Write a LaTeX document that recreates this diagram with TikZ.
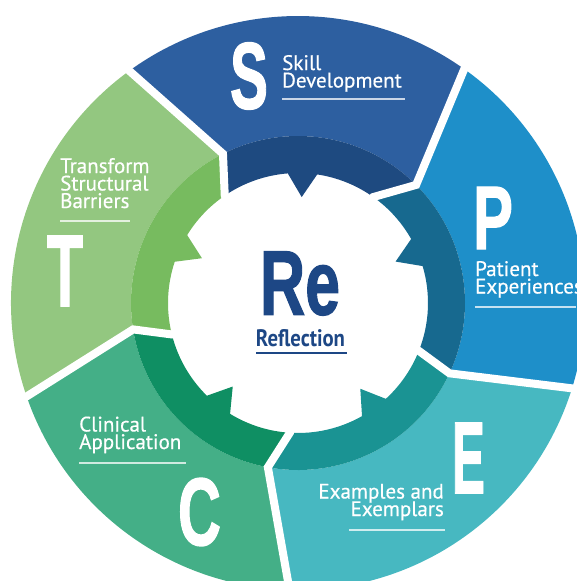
\documentclass[tikz,border=0pt]{standalone}
\usepackage{fontspec}
\setmainfont{PT Sans}
\newfontfamily\lblfont[FakeBold=0.5]{PT Sans}
\newfontfamily\bigfont[FakeBold=1.5]{Liberation Sans}
\setlength{\lineskiplimit}{-30pt}
\definecolor{sLight}{HTML}{2D5FA0}
\definecolor{sDark}{HTML}{1E4A80}
\definecolor{pLight}{HTML}{1E8FC9}
\definecolor{pDark}{HTML}{17698F}
\definecolor{eLight}{HTML}{47B8C1}
\definecolor{eDark}{HTML}{1A9393}
\definecolor{cLight}{HTML}{44AF87}
\definecolor{cDark}{HTML}{0F8F63}
\definecolor{tLight}{HTML}{93C780}
\definecolor{tDark}{HTML}{77BB5F}
\definecolor{navy}{HTML}{1D4785}
\begin{document}
\begin{tikzpicture}[x=1pt,y=1pt,
  lbl/.style={text=white, inner sep=0pt,
    font=\lblfont\fontsize{21}{17.5}\selectfont},
  bigletter/.style={text=white, inner sep=0pt},
  rule/.style={white, opacity=0.75, line width=1.3pt}]
\useasboundingbox (0,0) rectangle (576,-581);
\def\Ro{287}\def\Rm{167}\def\Ri{130}\def\Rt{106}
% one ring segment: light outer part and dark inner band with a tooth
% #1 light, #2 dark, #3-#5 trailing divider (outer, knee, inner),
% #6-#8 leading divider (outer, knee, inner), #9 tooth angle
\newcommand\ringseg[9]{%
  \fill[#1] (#3:\Ro) arc[start angle=#3, end angle=#6, radius=\Ro]
    -- (#7:\Rm) arc[start angle=#7, end angle=#4, radius=\Rm] -- cycle;
  \fill[#2] (#4:\Rm) arc[start angle=#4, end angle=#7, radius=\Rm]
    -- (#8:\Ri) arc[start angle=#8, end angle={#9-6.5}, radius=\Ri]
    -- (#9:\Rt) -- ({#9+6.5}:\Ri)
    arc[start angle={#9+6.5}, end angle=#5, radius=\Ri] -- cycle;
}
\begin{scope}[shift={(298,-303)}]
  \ringseg{sLight}{sDark}{126}{116.7}{124.3}{54.6}{45}{54.6}{88}
  \ringseg{pLight}{pDark}{54.6}{45}{54.6}{-17.3}{-24.9}{-21.6}{23}
  \ringseg{eLight}{eDark}{-17.3}{-24.9}{-21.6}{-91.7}{-100.4}{-93.6}{-54}
  \ringseg{cLight}{cDark}{-91.7}{-100.4}{-93.6}{-161}{-170.9}{-166}{-128}
  \ringseg{tLight}{tDark}{199}{189.1}{194}{126}{116.7}{124.3}{155}
  % white gaps between the segments
  \foreach \o/\m/\i in {126/116.7/124.3, 54.6/45/54.6, -17.3/-24.9/-21.6,
                        -91.7/-100.4/-93.6, -161/-170.9/-166}
    \draw[white, line width=8pt, line join=miter]
      (\o:305) -- (\o:\Ro) -- (\m:\Rm) -- (\i:\Ri) -- (\i:100);
\end{scope}

% centre
\node[inner sep=0pt, text=navy] (re) at (300,-283.5)
  {\resizebox{80pt}{63pt}{\bigfont\bfseries Re}};
\node[inner sep=0pt, text=navy] (refl) at (300.5,-338.5)
  {\resizebox{89pt}{17pt}{\bfseries Reflection}};
\coordinate (reflA) at (256,-353);
\coordinate (reflB) at (347,-353);
\draw[navy, line width=1.2pt] (reflA) -- (reflB);

% S  (multi-line labels are anchored at the baseline of their last line)
\node[bigletter] (bigS) at (249,-76) {\resizebox{38pt}{66pt}{\bigfont\bfseries S}};
\node[lbl, anchor=base west, align=left] (sTxt) at (282,-87.5) {Skill\\Development};
\coordinate (sA) at (282,-99); \coordinate (sB) at (405,-99);
\draw[rule] (sA) -- (sB);

% P
\node[bigletter] (bigP) at (493,-218) {\resizebox{40pt}{62pt}{\bigfont\bfseries P}};
\node[lbl, anchor=base west, align=left] (pTxt) at (475,-293.5) {Patient\\Experiences};
\coordinate (pA) at (475,-307); \coordinate (pB) at (576,-307);
\draw[rule] (pA) -- (pB);

% E
\node[bigletter] (bigE) at (468.5,-458) {\resizebox{33pt}{70pt}{\bigfont\bfseries E}};
\node[lbl, anchor=base east, align=right] (eTxt) at (444,-516) {Examples and\\Exemplars};
\coordinate (eA) at (349,-530); \coordinate (eB) at (445,-530);
\draw[rule] (eA) -- (eB);

% C
\node[bigletter] (bigC) at (199.5,-512) {\resizebox{43pt}{67pt}{\bigfont\bfseries C}};
\node[lbl, anchor=base west, align=left] (cTxt) at (79,-449) {Clinical\\Application};
\coordinate (cA) at (79,-463); \coordinate (cB) at (186,-463);
\draw[rule] (cA) -- (cB);

% T
\node[bigletter] (bigT) at (65,-271) {\resizebox{36pt}{70pt}{\bigfont\bfseries T}};
\node[lbl, anchor=base west, align=left] (tTxt) at (60,-208) {Transform\\Structural\\Barriers};
\coordinate (tA) at (60,-221); \coordinate (tB) at (130,-221);
\draw[rule] (tA) -- (tB);
\end{tikzpicture}
\end{document}
